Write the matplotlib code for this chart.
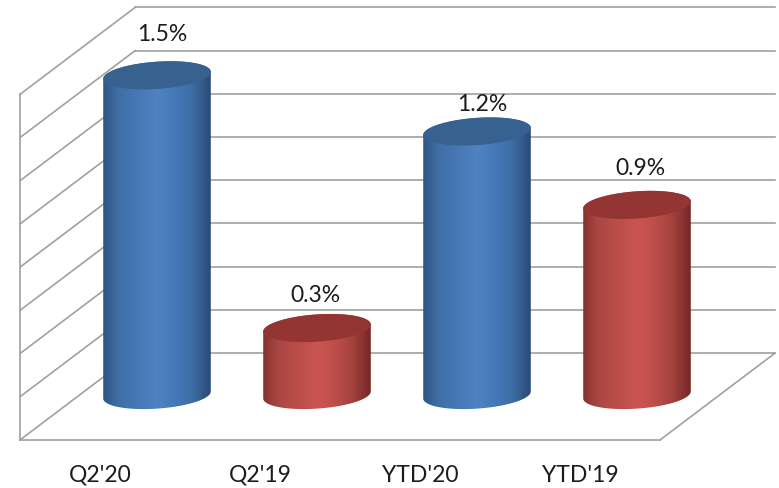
import numpy as np
import matplotlib
matplotlib.use("Agg")
import matplotlib.pyplot as plt
from matplotlib.colors import LinearSegmentedColormap
from matplotlib.patches import Polygon

categories = ["Q2'20", "Q2'19", "YTD'20", "YTD'19"]
values = [1.48, 0.31, 1.22, 0.88]
labels = ["1.5%", "0.3%", "1.2%", "0.9%"]
series_colors = ["blue", "red", "blue", "red"]
grid_values = [0, 0.2, 0.4, 0.6, 0.8, 1.0, 1.2, 1.4, 1.6]

# size of one unit on each axis, in pixels
px_x = 160
px_y = 216

# floor of the fake 3d box, in data units
back_left = -0.1375
back_right = 3.8625
front_left = -0.856
front_right = 3.144
back_y = 0.194
front_y = -0.208

# nudges for the value labels (they do not sit evenly in the original)
label_dx = [0.03, -0.01, 0.03, 0.02]
label_dy = [0.195, 0.157, 0.13, 0.171]

gradients = {
    "blue": ["#2f5583", "#3f6ea6", "#4f82c2", "#467cba", "#3f6ea6", "#2a4a75"],
    "red": ["#853230", "#ab4744", "#cb5450", "#c4504c", "#a6433f", "#742826"],
}
tops = {"blue": "#37618f", "red": "#943533"}

fig = plt.figure(figsize=(7.79, 4.89), dpi=100)
ax = fig.add_axes([0, 0, 1, 1])
ax.axis("off")

gc = "#a0a0a0"
lw = 1.2
for g in grid_values:
    # back wall and left wall
    ax.plot([back_left, back_right], [back_y + g, back_y + g], color=gc, lw=lw, zorder=1)
    ax.plot([front_left, back_left], [front_y + g, back_y + g], color=gc, lw=lw, zorder=1)
ax.plot([front_left, front_left], [front_y, front_y + 1.6], color=gc, lw=lw, zorder=1)
ax.plot([front_left, front_right], [front_y, front_y], color=gc, lw=lw, zorder=1)
ax.plot([front_right, back_right], [front_y, back_y], color=gc, lw=lw, zorder=1)

a = 53.9
b = 13.6
th = np.radians(4)


def ellipse_pts(cx, cy, t):
    u = a * np.cos(t)
    v = b * np.sin(t)
    return cx + (u * np.cos(th) - v * np.sin(th)) / px_x, cy + (u * np.sin(th) + v * np.cos(th)) / px_y


stops = [0, 0.14, 0.5, 0.62, 0.82, 1]
t0 = np.arctan2(-b * np.sin(th), a * np.cos(th))
for i, val in enumerate(values):
    name = series_colors[i]
    cmap = LinearSegmentedColormap.from_list(name, list(zip(stops, gradients[name])))
    # side of the cylinder: lower half of the bottom ellipse, then the top ellipse
    t_bottom = np.linspace(t0 - np.pi, t0, 80)
    t_top = np.linspace(t0, t0 + np.pi, 80)
    bx, by = ellipse_pts(i, 0, t_bottom)
    tx, ty = ellipse_pts(i, val, t_top)
    body = Polygon(np.column_stack([np.r_[bx, tx], np.r_[by, ty]]), transform=ax.transData,
                   facecolor="none", edgecolor="none")
    ax.add_patch(body)
    grad = np.linspace(0, 1, 256).reshape(1, -1)
    half = 54 / px_x
    im = ax.imshow(grad, cmap=cmap, extent=[i - half, i + half, -0.1, val + 0.1],
                   aspect="auto", zorder=3, interpolation="bilinear")
    im.set_clip_path(body)
    # top cap
    ex, ey = ellipse_pts(i, val, np.linspace(0, 2 * np.pi, 160))
    ax.fill(ex, ey, color=tops[name], lw=0, zorder=4)
    ax.text(i + label_dx[i], val + label_dy[i], labels[i], ha="center", va="center",
            fontsize=16.5, family="Lato", color="#1c1c1c", zorder=5)

# imshow changes the limits, so set them last
ax.set_xlim(-157 / px_x, 622 / px_x)
ax.set_ylim(-93 / px_y, 396 / px_y)

for i, c in enumerate(categories):
    ax.text(i - 0.356, -0.366, c, ha="center", va="center", fontsize=16.5, family="Lato", color="#1c1c1c")

fig.savefig("out.png", dpi=100)
